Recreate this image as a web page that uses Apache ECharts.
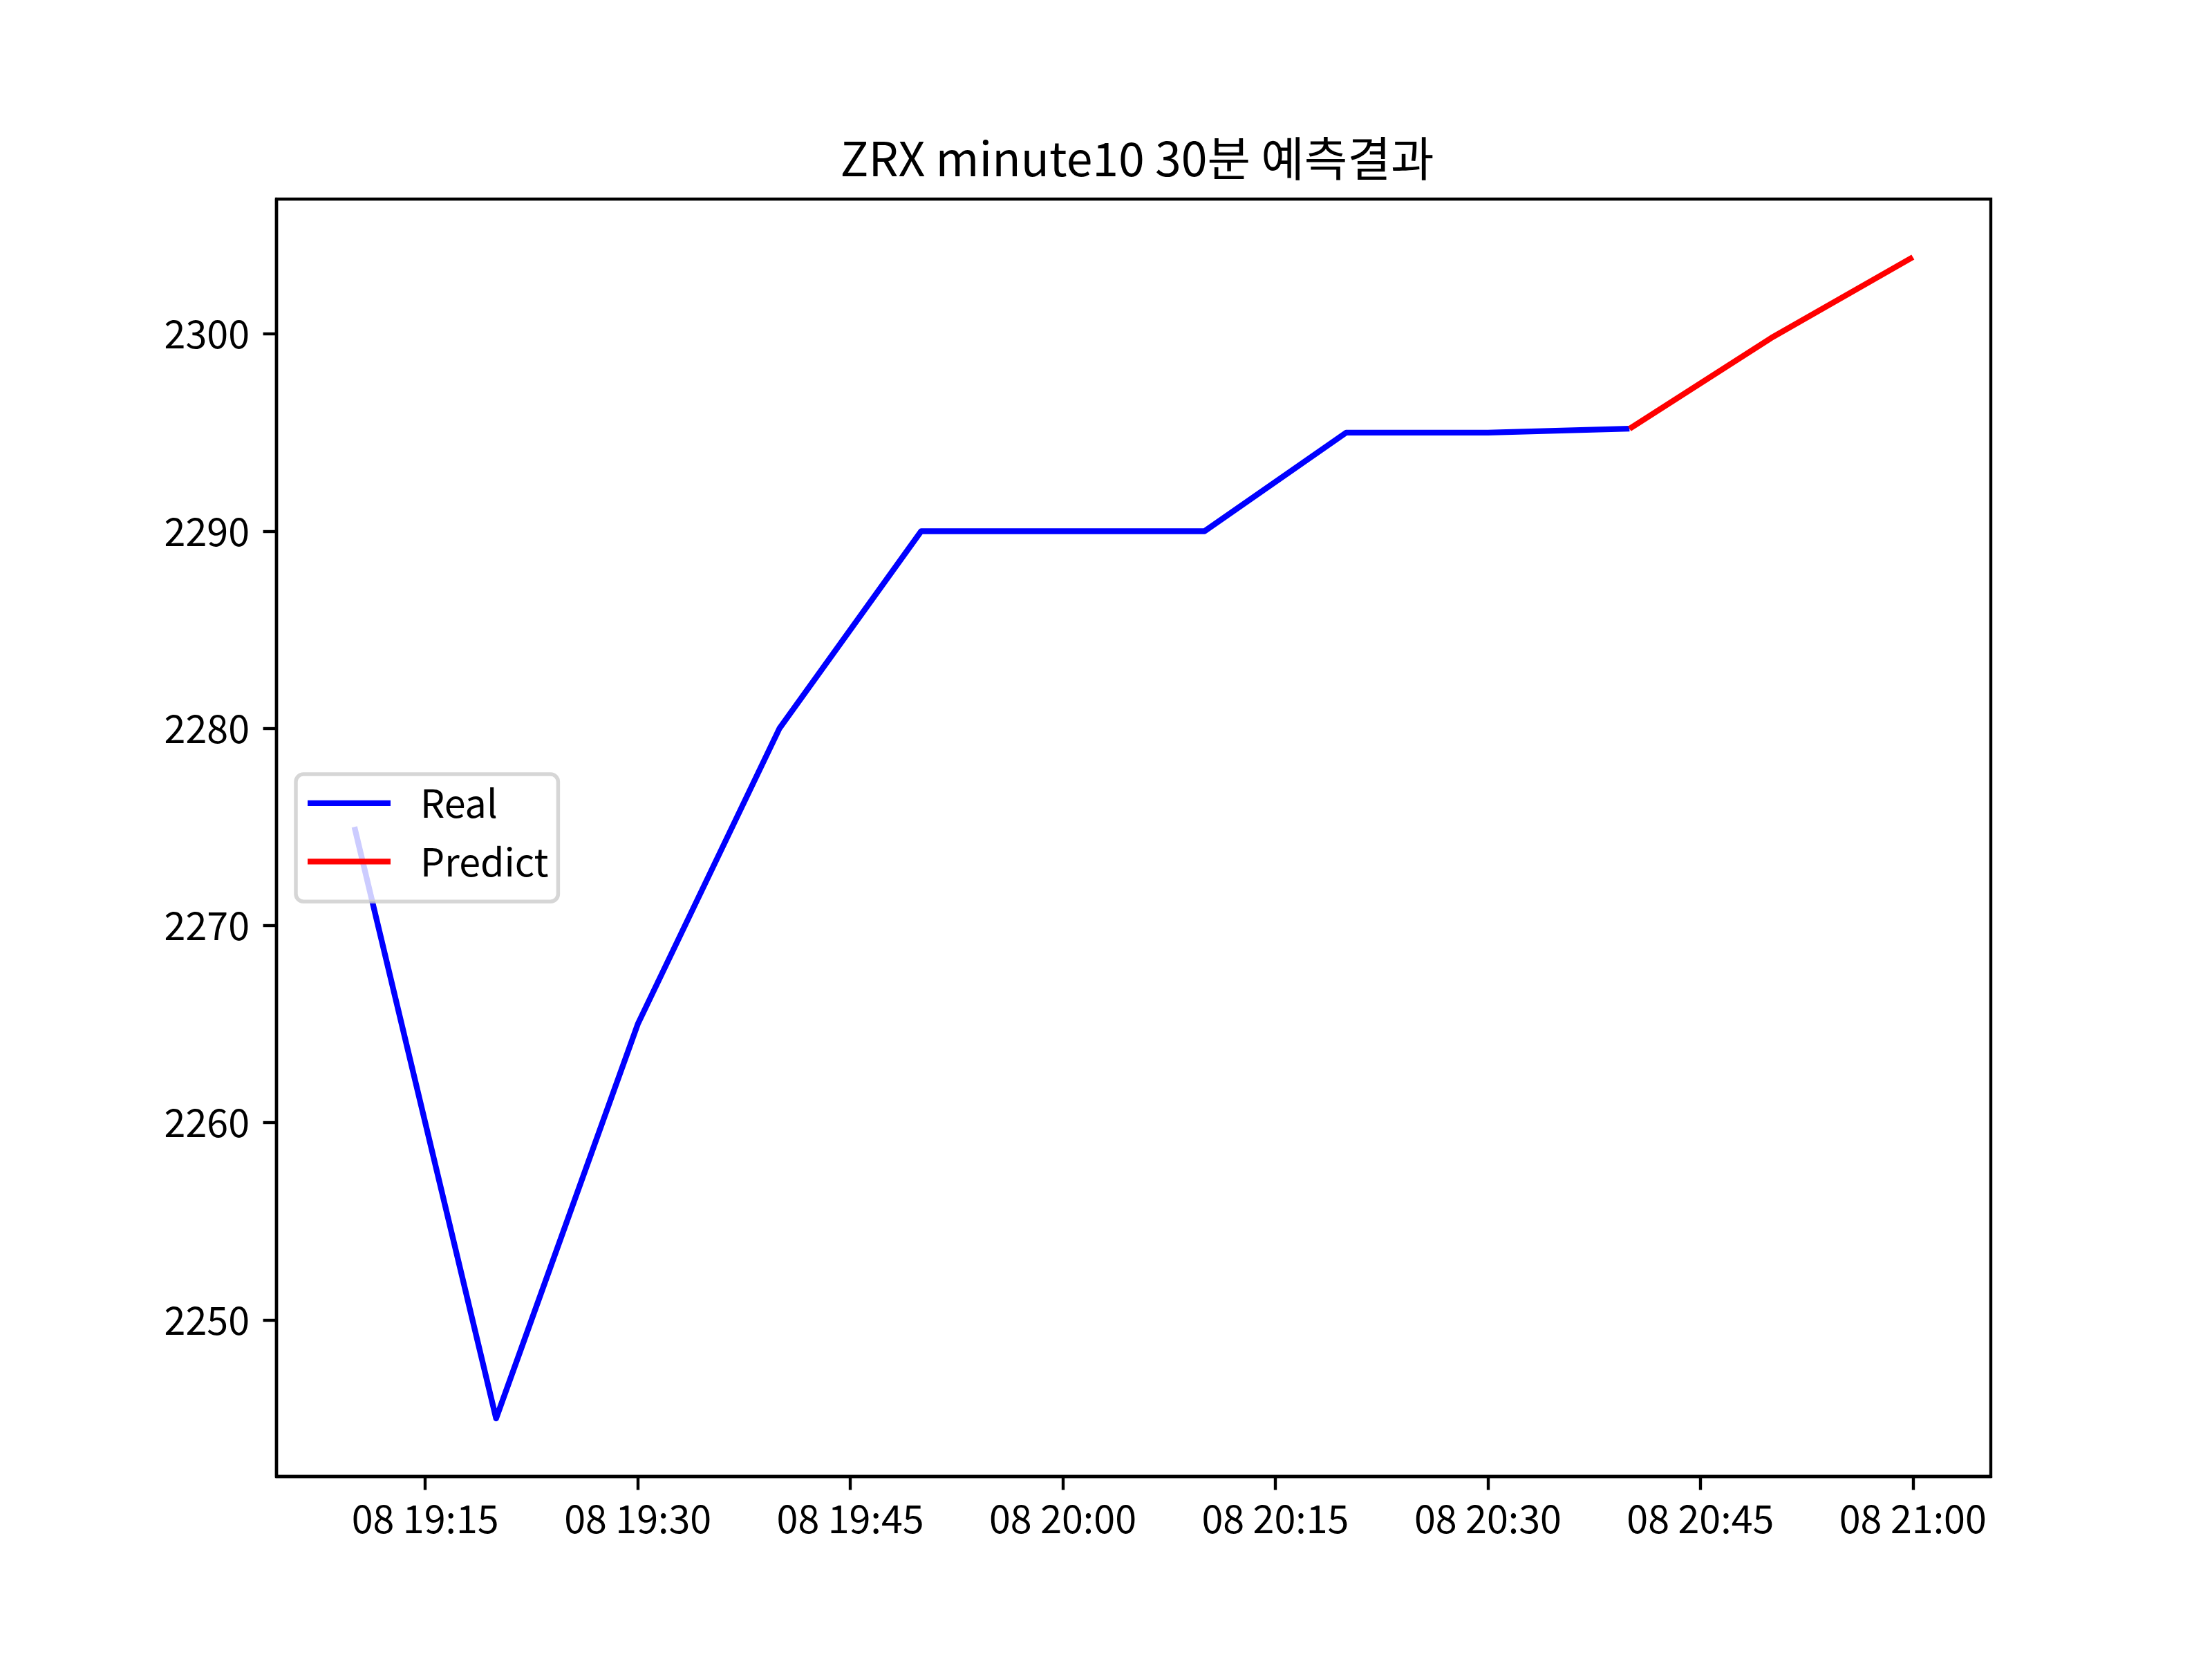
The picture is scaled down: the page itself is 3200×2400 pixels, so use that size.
<!DOCTYPE html>
<html>
<head>
<meta charset="utf-8">
<script src="https://cdn.jsdelivr.net/npm/echarts@6/dist/echarts.min.js"></script>
<style>html,body{margin:0;padding:0;background:#fff}#c{width:3200px;height:2400px}</style>
</head>
<body>
<div id="c"></div>
<script>
const titleText = 'ZRX minute10 30분 예측결과';
const realTimes = ['19:10','19:20','19:30','19:40','19:50','20:00','20:10','20:20','20:30','20:40'];
const realValues = [2275, 2245, 2265, 2280, 2290, 2290, 2290, 2295, 2295, 2295.2];
const predictTimes = ['20:40','20:50','21:00'];
const predictValues = [2295.2, 2299.8, 2303.9];
const xTickTimes = ['19:15','19:30','19:45','20:00','20:15','20:30','20:45','21:00'];
const xTickDay = '08';
const yTicks = [2250, 2260, 2270, 2280, 2290, 2300];

function toMin(t){const p=t.split(':');return (+p[0])*60+(+p[1]);}
function fmt(m){const h=Math.floor(m/60), mm=Math.round(m-h*60);return xTickDay+' '+String(h).padStart(2,'0')+':'+String(mm).padStart(2,'0');}

const allX = realTimes.concat(predictTimes).map(toMin);
const allY = realValues.concat(predictValues);
const xMinD = Math.min(...allX), xMaxD = Math.max(...allX);
const yMinD = Math.min(...allY), yMaxD = Math.max(...allY);
const xPad = (xMaxD - xMinD) * 0.05, yPad = (yMaxD - yMinD) * 0.05;

const FONT = '"Noto Sans CJK KR", "Noto Sans", sans-serif';
const LW = 8.33;

const chart = echarts.init(document.getElementById('c'), null, {renderer:'canvas'});
chart.setOption({
  animation: false,
  backgroundColor: '#fff',
  textStyle: {fontFamily: FONT},
  title: {
    text: titleText, left: 1640, top: 190, textAlign: 'center',
    textStyle: {fontFamily: FONT, fontSize: 68, fontWeight: 'normal', color: '#000'}
  },
  grid: {left: 400, right: 320, top: 288, bottom: 264, show: true, borderColor: '#000', borderWidth: 4.4, backgroundColor: 'transparent'},
  legend: {
    orient: 'vertical', left: 428, top: 1120,
    padding: [14, 14, 30, 17], itemGap: 29, itemWidth: 120, itemHeight: 8.33,
    backgroundColor: 'rgba(255,255,255,0.8)', borderColor: 'rgba(204,204,204,0.8)', borderWidth: 5.5, borderRadius: 11,
    textStyle: {fontFamily: FONT, fontSize: 55.6, color: '#000', padding: [0,0,0,38]},
    data: [{name: 'Real', icon: 'rect', itemStyle: {color: '#0000ff'}}, {name: 'Predict', icon: 'rect', itemStyle: {color: '#ff0000'}}]
  },
  xAxis: {
    type: 'value', min: xMinD - xPad, max: xMaxD + xPad,
    splitLine: {show: false},
    axisLine: {show: true, onZero: false, lineStyle: {color: '#000', width: 4.4}},
    axisTick: {show: true, length: 19.4, lineStyle: {color: '#000', width: 4.4}, customValues: xTickTimes.map(toMin)},
    axisLabel: {margin: 33, fontSize: 55.6, color: '#000', fontFamily: FONT, customValues: xTickTimes.map(toMin), formatter: v => fmt(v)}
  },
  yAxis: {
    type: 'value', min: yMinD - yPad, max: yMaxD + yPad,
    splitLine: {show: false},
    axisLine: {show: true, onZero: false, lineStyle: {color: '#000', width: 4.4}},
    axisTick: {show: true, length: 19.4, lineStyle: {color: '#000', width: 4.4}, customValues: yTicks},
    axisLabel: {margin: 39, fontSize: 55.6, color: '#000', fontFamily: FONT, customValues: yTicks, formatter: v => String(Math.round(v))}
  },
  series: [
    {name: 'Real', type: 'line', showSymbol: false, symbol: 'none',
     data: realTimes.map((t,i)=>[toMin(t), realValues[i]]),
     lineStyle: {color: '#0000ff', width: LW, cap: 'butt', join: 'round'}, itemStyle: {color: '#0000ff'}},
    {name: 'Predict', type: 'line', showSymbol: false, symbol: 'none',
     data: predictTimes.map((t,i)=>[toMin(t), predictValues[i]]),
     lineStyle: {color: '#ff0000', width: LW, cap: 'butt', join: 'round'}, itemStyle: {color: '#ff0000'}}
  ]
});
</script>
</body>
</html>
